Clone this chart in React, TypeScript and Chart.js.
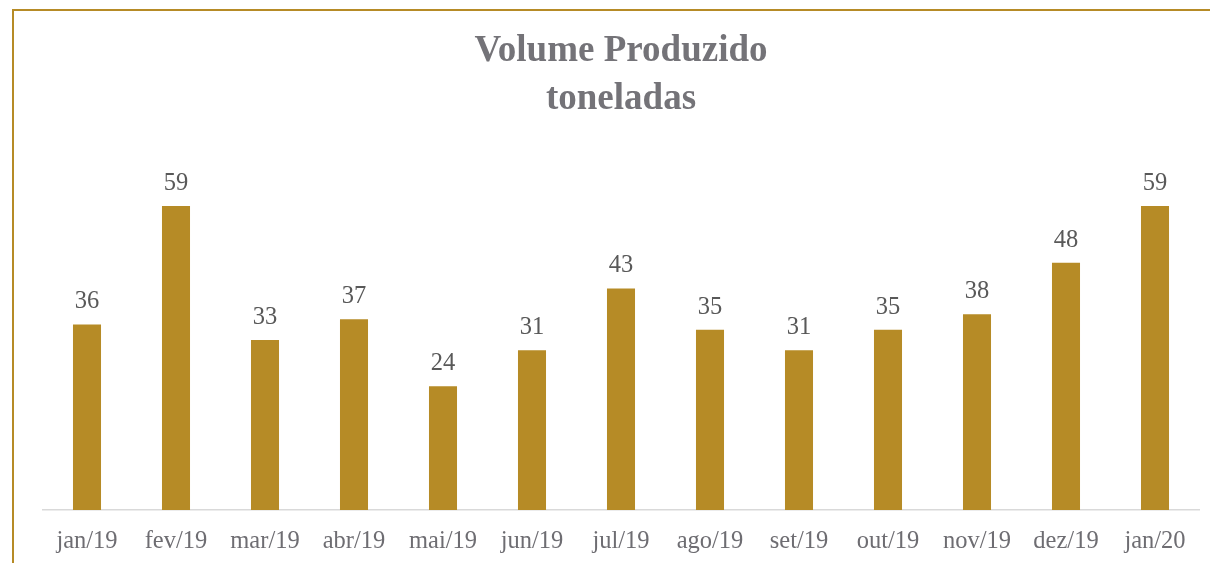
import React, { useEffect, useRef } from "react";
import { Chart, registerables } from "chart.js";

Chart.register(...registerables);

const categories = ["jan/19", "fev/19", "mar/19", "abr/19", "mai/19", "jun/19", "jul/19", "ago/19", "set/19", "out/19", "nov/19", "dez/19", "jan/20"];
const volumes = [36, 59, 33, 37, 24, 31, 43, 35, 31, 35, 38, 48, 59];
const titleLines = ["Volume Produzido", "toneladas"];

const GOLD = "#B68B26";
const FONT = "'Liberation Serif', 'Times New Roman', serif";
const CANVAS_H = 580;
const TICK_SIZE = 24.5;
const TICK_PAD = 16.5;

const valueLabels = {
  id: "valueLabels",
  afterDatasetsDraw(chart: any) {
    const ctx = chart.ctx;
    const meta = chart.getDatasetMeta(0);
    ctx.save();
    ctx.font = `24.5px ${FONT}`;
    ctx.fillStyle = "#595959";
    ctx.textAlign = "center";
    ctx.textBaseline = "alphabetic";
    meta.data.forEach((bar: any, i: number) => {
      ctx.fillText(String(chart.data.datasets[0].data[i]), bar.x, bar.y - 16);
    });
    ctx.restore();
  },
};

export default function App() {
  const ref = useRef<HTMLCanvasElement>(null);
  useEffect(() => {
    if (!ref.current) return;
    const chart = new Chart(ref.current, {
      type: "bar",
      data: {
        labels: categories,
        datasets: [
          {
            data: volumes,
            backgroundColor: GOLD,
            borderWidth: 0,
            categoryPercentage: 1,
            barPercentage: 0.315,
          },
        ],
      },
      options: {
        responsive: false,
        animation: false,
        layout: {
          padding: { left: 42.5, right: 10.5, top: 20, bottom: CANVAS_H - 510 - (2 * TICK_PAD + TICK_SIZE * 1.2) },
        },
        plugins: {
          legend: { display: false },
          tooltip: { enabled: false },
          title: {
            display: true,
            text: titleLines,
            color: "#747378",
            font: { family: FONT, size: 37, weight: "bold", lineHeight: "48px" as any },
            padding: { top: 7, bottom: 26.3 },
          },
        },
        scales: {
          x: {
            grid: { display: false, drawTicks: false },
            border: { display: true, color: "#D9D9D9", width: 1.5 },
            ticks: { color: "#6E6D72", font: { family: FONT, size: TICK_SIZE }, padding: TICK_PAD, maxRotation: 0, autoSkip: false },
          },
          y: { display: false, min: 0, max: 70 },
        },
      },
      plugins: [valueLabels],
    });
    return () => chart.destroy();
  }, []);
  return (
    <div style={{ position: "fixed", left: 0, top: 0, width: 1210, height: 563, background: "#fff", overflow: "hidden" }}>
      <div
        style={{
          position: "absolute",
          left: 12,
          top: 9,
          width: 1300,
          height: 700,
          borderTop: `2px solid ${GOLD}`,
          borderLeft: `2px solid ${GOLD}`,
        }}
      />
      <canvas ref={ref} width={1210} height={CANVAS_H} style={{ position: "absolute", left: 0, top: 0 }} />
    </div>
  );
}
